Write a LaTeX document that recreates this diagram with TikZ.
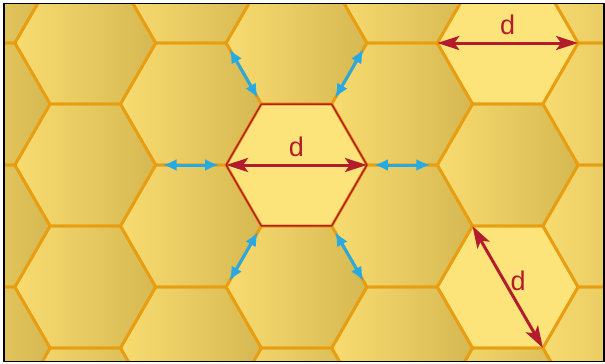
\documentclass[tikz,border=0pt]{standalone}
\usepackage{fontspec}
\setmainfont{Liberation Sans}
\usetikzlibrary{arrows.meta, calc, positioning}

\definecolor{combLight}{RGB}{248,220,112}
\definecolor{combDark}{RGB}{214,184,82}
\definecolor{combHigh}{RGB}{252,228,122}
\definecolor{waxEdge}{RGB}{233,158,18}
\definecolor{sizeRed}{RGB}{178,28,44}
\definecolor{gapBlue}{RGB}{41,169,225}

\begin{document}
\begin{tikzpicture}[
        x=1pt, y=-1pt,
        hexcell/.style={insert path={+(0:70.4) -- +(60:70.4) -- +(120:70.4) -- +(180:70.4) -- +(240:70.4) -- +(300:70.4) -- cycle}},
        cellshade/.style={left color=combLight, right color=combDark},
        highcell/.style={fill=combHigh},
        waxline/.style={draw=waxEdge, line width=2.8pt, line join=round},
        redline/.style={draw=sizeRed, line width=1.5pt, line join=round},
        sizearrow/.style={{Stealth[length=22pt,width=14pt,inset=5pt]}-{Stealth[length=22pt,width=14pt,inset=5pt]}, draw=sizeRed, line width=3pt},
        gaparrow/.style={{Latex[length=14pt,width=12pt]}-{Latex[length=14pt,width=12pt]}, draw=gapBlue, line width=3pt, shorten <=7pt, shorten >=7pt},
        dlabel/.style={text=sizeRed, font=\fontsize{27}{30}\selectfont, inner sep=0pt}
    ]
    \useasboundingbox (0,0) rectangle (605,364);

    % ==========================================
    % 1. FRAME AND CELL CENTRES
    % ==========================================
    \coordinate (frameNW) at (4,3.5);
    \coordinate (frameSE) at (604,361.5);

    \coordinate (cell)    at (296.5,165);
    \coordinate (cellTop) at (507.7,43);
    \coordinate (cellLow) at (507.7,287);

    % corners of the middle cell and the far ends of the edges leaving them
    \foreach \a in {0,60,...,300} {
        \coordinate (v\a) at ($(cell)+(\a:70.4)$);
        \coordinate (w\a) at ($(cell)+(\a:140.8)$);
    }
    \coordinate (topL) at ($(cellTop)+(180:70.4)$);
    \coordinate (topR) at ($(cellTop)+(0:70.4)$);
    \coordinate (lowA) at ($(cellLow)+(240:70.4)$);
    \coordinate (lowB) at ($(cellLow)+(60:70.4)$);

    % ==========================================
    % 2. HONEYCOMB
    % ==========================================
    \begin{scope}
        \clip (frameNW) rectangle (frameSE);
        \foreach \i in {-3,...,3} {
            \foreach \j in {-2,...,2} {
                \pgfmathsetmacro\cx{296.5+105.6*\i}
                \pgfmathsetmacro\cy{165-61*mod(abs(\i),2)+122*\j}
                \shade[cellshade] (\cx,\cy) [hexcell];
            }
        }
        % lighter cells
        \foreach \c in {cell, cellTop, cellLow}
            \fill[highcell] (\c) [hexcell];
        % wax walls
        \foreach \i in {-3,...,3} {
            \foreach \j in {-2,...,2} {
                \pgfmathsetmacro\cx{296.5+105.6*\i}
                \pgfmathsetmacro\cy{165-61*mod(abs(\i),2)+122*\j}
                \draw[waxline] (\cx,\cy) [hexcell];
            }
        }
        \draw[redline] (cell) [hexcell];
    \end{scope}

    % ==========================================
    % 3. ARROWS AND LABELS
    % ==========================================

    % gaps around the middle cell
    \foreach \a in {0,60,...,300}
        \draw[gaparrow] (v\a) -- (w\a);

    % diameters
    \draw[sizearrow] (v180) -- node[dlabel, above=7pt] (dMid) {d} (v0);
    \draw[sizearrow] (topL) -- node[dlabel, above=7pt] (dTop) {d} (topR);
    \draw[sizearrow] (lowA) -- (lowB);
    \node[dlabel] (dLow) at ($(cellLow)+(10.5,-6)$) {d};

    % frame
    \draw[line width=1.4pt] (frameNW) rectangle (frameSE);

\end{tikzpicture}
\end{document}
